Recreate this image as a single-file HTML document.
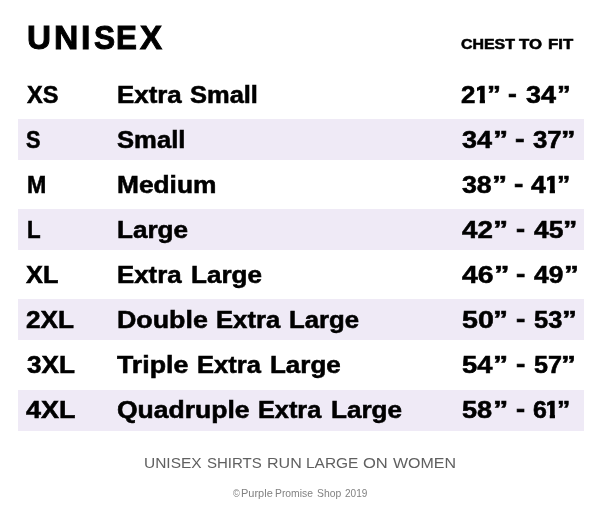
<!DOCTYPE html>
<html><head><meta charset="utf-8"><title>Unisex size chart</title>
<style>
html,body{margin:0;padding:0;background:#fff;}
body{width:600px;height:525px;position:relative;overflow:hidden;font-family:"Liberation Sans",sans-serif;color:#000;}
.band{position:absolute;left:17.5px;width:566.1px;height:40.9px;background:#efeaf6;}
.t{position:absolute;white-space:nowrap;line-height:1;font-weight:bold;transform-origin:0 0;-webkit-text-stroke:0.55px #000;}
.n{font-weight:normal;-webkit-text-stroke:0;}
.ln{height:0;}
</style></head><body>
<div class="band" style="top:119.4px;height:40.85px"></div>
<div class="band" style="top:209.25px;height:40.75px"></div>
<div class="band" style="top:299.0px;height:41.25px"></div>
<div class="band" style="top:389.5px;height:41.25px"></div>
<div class="ln" id="title"><span class="t" style="left:27.19px;top:21.30px;font-size:33.9px;transform:scaleX(0.9794);-webkit-text-stroke-width:1.0px;">U</span><span class="t" style="left:54.09px;top:21.30px;font-size:33.9px;transform:scaleX(0.9936);-webkit-text-stroke-width:1.0px;">N</span><span class="t" style="left:81.38px;top:21.30px;font-size:33.9px;transform:scaleX(1.0006);-webkit-text-stroke-width:1.0px;">I</span><span class="t" style="left:94.01px;top:21.30px;font-size:33.9px;transform:scaleX(0.9322);-webkit-text-stroke-width:1.0px;">S</span><span class="t" style="left:116.24px;top:21.30px;font-size:33.9px;transform:scaleX(0.9235);-webkit-text-stroke-width:1.0px;">E</span><span class="t" style="left:140.30px;top:21.30px;font-size:33.9px;transform:scaleX(0.9747);-webkit-text-stroke-width:1.0px;">X</span></div>
<div class="ln" id="chest"><span class="t" style="left:461.18px;top:36.15px;font-size:15.3px;transform:scaleX(1.0408);">CHEST</span> <span class="t" style="left:518.67px;top:36.15px;font-size:15.3px;transform:scaleX(1.0976);">TO</span> <span class="t" style="left:547.63px;top:36.15px;font-size:15.3px;transform:scaleX(1.0950);">FIT</span></div>
<div class="ln" id="row0"><span class="t" style="left:27.32px;top:83.28px;font-size:24.0px;transform:scaleX(0.9798);">XS</span> <span class="t" style="left:117.11px;top:83.28px;font-size:24.0px;transform:scaleX(1.0777);">Extra</span> <span class="t" style="left:190.33px;top:83.28px;font-size:24.0px;transform:scaleX(1.0612);">Small</span> <span class="t" style="left:461.47px;top:83.28px;font-size:24.0px;transform:scaleX(1.0792);">2</span><span class="t" style="left:474.19px;top:83.28px;font-size:24.0px;transform:scaleX(1.1500);clip-path:polygon(2.62px 0,9.53px 0,9.53px 24.0px,4.99px 24.0px,4.99px 16.80px,2.62px 16.80px);-webkit-text-stroke-width:0.7px;">1</span><span class="t" style="left:486.53px;top:83.28px;font-size:24.0px;transform:scaleX(1.1611);">”</span> <span class="t" style="left:507.95px;top:82.28px;font-size:24.0px;transform:scaleX(1.1059);">-</span> <span class="t" style="left:526.35px;top:83.28px;font-size:24.0px;transform:scaleX(1.1238);">34</span><span class="t" style="left:556.97px;top:83.28px;font-size:24.0px;transform:scaleX(1.1389);">”</span></div>
<div class="ln" id="row1"><span class="t" style="left:26.49px;top:128.23px;font-size:24.0px;transform:scaleX(0.9033);">S</span> <span class="t" style="left:116.92px;top:128.23px;font-size:24.0px;transform:scaleX(1.0677);">Small</span> <span class="t" style="left:462.45px;top:128.23px;font-size:24.0px;transform:scaleX(1.1238);">34</span><span class="t" style="left:493.48px;top:128.23px;font-size:24.0px;transform:scaleX(1.2611);">”</span> <span class="t" style="left:515.08px;top:127.23px;font-size:24.0px;transform:scaleX(1.2000);">-</span> <span class="t" style="left:533.27px;top:128.23px;font-size:24.0px;transform:scaleX(1.0751);">37</span><span class="t" style="left:561.27px;top:128.23px;font-size:24.0px;transform:scaleX(1.2056);">”</span></div>
<div class="ln" id="row2"><span class="t" style="left:27.13px;top:173.18px;font-size:24.0px;transform:scaleX(0.9652);">M</span> <span class="t" style="left:117.08px;top:173.18px;font-size:24.0px;transform:scaleX(1.0963);">Medium</span> <span class="t" style="left:462.46px;top:173.18px;font-size:24.0px;transform:scaleX(1.1138);">38</span><span class="t" style="left:492.38px;top:173.18px;font-size:24.0px;transform:scaleX(1.2611);">”</span> <span class="t" style="left:514.00px;top:172.18px;font-size:24.0px;transform:scaleX(1.1686);">-</span> <span class="t" style="left:531.27px;top:173.18px;font-size:24.0px;transform:scaleX(1.1074);">4</span><span class="t" style="left:544.39px;top:173.18px;font-size:24.0px;transform:scaleX(1.1500);clip-path:polygon(2.71px 0,9.53px 0,9.53px 24.0px,4.99px 24.0px,4.99px 16.80px,2.71px 16.80px);-webkit-text-stroke-width:0.7px;">1</span><span class="t" style="left:557.12px;top:173.18px;font-size:24.0px;transform:scaleX(1.1056);">”</span></div>
<div class="ln" id="row3"><span class="t" style="left:27.18px;top:218.13px;font-size:24.0px;transform:scaleX(0.9294);">L</span> <span class="t" style="left:117.09px;top:218.13px;font-size:24.0px;transform:scaleX(1.0868);">Large</span> <span class="t" style="left:462.47px;top:218.13px;font-size:24.0px;transform:scaleX(1.1553);">42</span><span class="t" style="left:493.48px;top:218.13px;font-size:24.0px;transform:scaleX(1.2611);">”</span> <span class="t" style="left:515.52px;top:217.13px;font-size:24.0px;transform:scaleX(1.1373);">-</span> <span class="t" style="left:533.67px;top:218.13px;font-size:24.0px;transform:scaleX(1.1016);">45</span><span class="t" style="left:562.88px;top:218.13px;font-size:24.0px;transform:scaleX(1.1944);">”</span></div>
<div class="ln" id="row4"><span class="t" style="left:26.07px;top:263.08px;font-size:24.0px;transform:scaleX(1.0559);">XL</span> <span class="t" style="left:117.11px;top:263.08px;font-size:24.0px;transform:scaleX(1.0760);">Extra</span> <span class="t" style="left:190.90px;top:263.08px;font-size:24.0px;transform:scaleX(1.0852);">Large</span> <span class="t" style="left:462.47px;top:263.08px;font-size:24.0px;transform:scaleX(1.1821);">46</span><span class="t" style="left:493.83px;top:263.08px;font-size:24.0px;transform:scaleX(1.2944);">”</span> <span class="t" style="left:515.70px;top:262.08px;font-size:24.0px;transform:scaleX(1.1686);">-</span> <span class="t" style="left:534.38px;top:263.08px;font-size:24.0px;transform:scaleX(1.0978);">49</span><span class="t" style="left:563.52px;top:263.08px;font-size:24.0px;transform:scaleX(1.2389);">”</span></div>
<div class="ln" id="row5"><span class="t" style="left:26.16px;top:308.03px;font-size:24.0px;transform:scaleX(1.0909);">2XL</span> <span class="t" style="left:117.05px;top:308.03px;font-size:24.0px;transform:scaleX(1.1164);">Double</span> <span class="t" style="left:216.12px;top:308.03px;font-size:24.0px;transform:scaleX(1.0692);">Extra</span> <span class="t" style="left:289.42px;top:308.03px;font-size:24.0px;transform:scaleX(1.0710);">Large</span> <span class="t" style="left:462.03px;top:308.03px;font-size:24.0px;transform:scaleX(1.1934);">50</span><span class="t" style="left:493.20px;top:308.03px;font-size:24.0px;transform:scaleX(1.2500);">”</span> <span class="t" style="left:515.70px;top:307.03px;font-size:24.0px;transform:scaleX(1.1686);">-</span> <span class="t" style="left:534.38px;top:308.03px;font-size:24.0px;transform:scaleX(1.0594);">53</span><span class="t" style="left:562.42px;top:308.03px;font-size:24.0px;transform:scaleX(1.2389);">”</span></div>
<div class="ln" id="row6"><span class="t" style="left:27.07px;top:352.98px;font-size:24.0px;transform:scaleX(1.0895);">3XL</span> <span class="t" style="left:117.12px;top:352.98px;font-size:24.0px;transform:scaleX(1.1140);">Triple</span> <span class="t" style="left:197.13px;top:352.98px;font-size:24.0px;transform:scaleX(1.0641);">Extra</span> <span class="t" style="left:270.40px;top:352.98px;font-size:24.0px;transform:scaleX(1.0821);">Large</span> <span class="t" style="left:462.05px;top:352.98px;font-size:24.0px;transform:scaleX(1.1389);">54</span><span class="t" style="left:493.48px;top:352.98px;font-size:24.0px;transform:scaleX(1.2611);">”</span> <span class="t" style="left:515.70px;top:351.98px;font-size:24.0px;transform:scaleX(1.1686);">-</span> <span class="t" style="left:533.98px;top:352.98px;font-size:24.0px;transform:scaleX(1.0474);">57</span><span class="t" style="left:561.32px;top:352.98px;font-size:24.0px;transform:scaleX(1.2389);">”</span></div>
<div class="ln" id="row7"><span class="t" style="left:26.12px;top:397.93px;font-size:24.0px;transform:scaleX(1.1226);">4XL</span> <span class="t" style="left:116.90px;top:397.93px;font-size:24.0px;transform:scaleX(1.1044);">Quadruple</span> <span class="t" style="left:258.44px;top:397.93px;font-size:24.0px;transform:scaleX(1.0539);">Extra</span> <span class="t" style="left:331.09px;top:397.93px;font-size:24.0px;transform:scaleX(1.0868);">Large</span> <span class="t" style="left:462.05px;top:397.93px;font-size:24.0px;transform:scaleX(1.1294);">58</span><span class="t" style="left:492.77px;top:397.93px;font-size:24.0px;transform:scaleX(1.2722);">”</span> <span class="t" style="left:515.52px;top:396.93px;font-size:24.0px;transform:scaleX(1.1373);">-</span> <span class="t" style="left:532.50px;top:397.93px;font-size:24.0px;transform:scaleX(1.0375);">6</span><span class="t" style="left:544.39px;top:397.93px;font-size:24.0px;transform:scaleX(1.1500);clip-path:polygon(2.71px 0,9.53px 0,9.53px 24.0px,4.99px 24.0px,4.99px 16.80px,2.71px 16.80px);-webkit-text-stroke-width:0.7px;">1</span><span class="t" style="left:557.12px;top:397.93px;font-size:24.0px;transform:scaleX(1.1056);">”</span></div>
<div class="ln" id="note"><span class="t n" style="left:144.38px;top:454.70px;font-size:15.0px;transform:scaleX(1.0320);color:#606060;">UNISEX</span> <span class="t n" style="left:206.88px;top:454.70px;font-size:15.0px;transform:scaleX(1.0012);color:#606060;">SHIRTS</span> <span class="t n" style="left:267.10px;top:454.70px;font-size:15.0px;transform:scaleX(1.0697);color:#606060;">RUN</span> <span class="t n" style="left:305.54px;top:454.70px;font-size:15.0px;transform:scaleX(1.0296);color:#606060;">LARGE</span> <span class="t n" style="left:362.57px;top:454.70px;font-size:15.0px;transform:scaleX(1.1033);color:#606060;">ON</span> <span class="t n" style="left:393.35px;top:454.70px;font-size:15.0px;transform:scaleX(1.0650);color:#606060;">WOMEN</span></div>
<div class="ln" id="copy"><span class="t n" style="left:233.20px;top:489.28px;font-size:10.3px;transform:scaleX(0.8990);color:#828282;">©</span><span class="t n" style="left:240.64px;top:489.28px;font-size:10.3px;transform:scaleX(1.0683);color:#828282;">Purple</span> <span class="t n" style="left:275.19px;top:489.28px;font-size:10.3px;transform:scaleX(1.0040);color:#828282;">Promise</span> <span class="t n" style="left:317.18px;top:489.28px;font-size:10.3px;transform:scaleX(1.0079);color:#828282;">Shop</span> <span class="t n" style="left:344.73px;top:489.28px;font-size:10.3px;transform:scaleX(0.9767);color:#828282;">2019</span></div>
</body></html>
